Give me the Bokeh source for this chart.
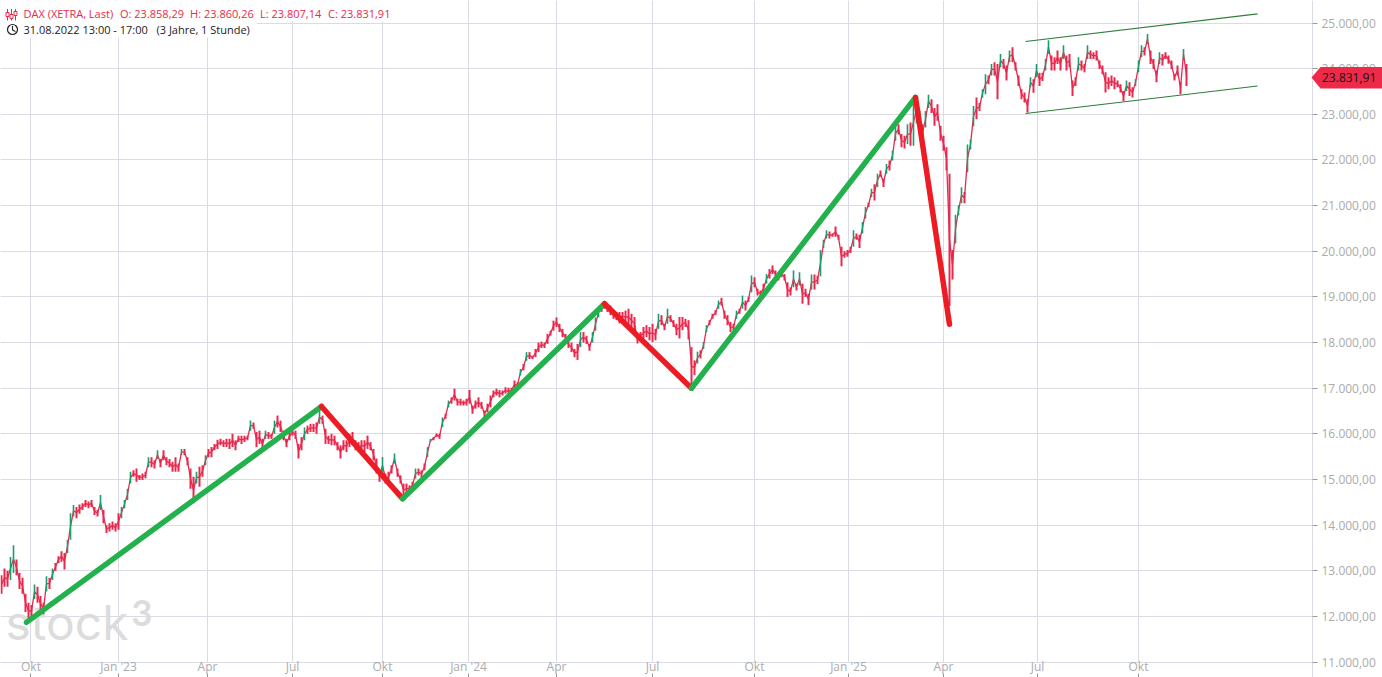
from bokeh.plotting import figure
from bokeh.embed import file_html
from bokeh.resources import INLINE
from bokeh.models import Range1d, FixedTicker
from bokeh.core.properties import value

# ---------- data: candle ranges per session slot (one slot = 3 px of the trading axis) ----------
range_2022_23 = [
 (12500,12900),(12650,13050),(12650,13000),(12800,13300),(12950,13560),(12900,13250),(12600,12950),(12500,12850),
 (12100,12500),(11950,12300),(12000,12250),(12380,12700),(12300,12650),(12100,12450),(12050,12300),(12550,12880),
 (12600,12850),(12800,13050),(13000,13170),(13170,13320),(13200,13430),(13030,13390),(13390,13680),(13680,14260),
 (14190,14440),(14150,14400),(14250,14450),(14330,14480),(14400,14550),(14370,14520),(14400,14550),(14220,14400),
 (14190,14330),(14330,14660),(14040,14330),(13830,14000),(13860,14040),(13900,14080),(13860,14040),(13900,14260),
 (14150,14400),(14370,14550),(14550,14800),(14910,15170),(15060,15200),(14950,15240),(14990,15100),(14990,15130),
 (15030,15170),(15270,15490),(15270,15490),(15240,15420),(15450,15640),(15270,15450),(15420,15640),(15310,15490),
 (15270,15450),(15170,15390),(15170,15490),(15170,15350),(15530,15670),(15530,15670),(15310,15490),(14800,15240),
 (14480,15060),(14910,15170),(14840,15280),(15060,15310),(15310,15530),(15490,15670),(15490,15710),(15640,15780),
 (15670,15870)]
range_2023 = [
 (15750,15890),(15710,15860),(15710,15890),(15670,15890),(15710,16000),(15640,15860),(15820,15960),(15780,15960),
 (15820,15960),(15860,15960),(16070,16290),(16110,16250),(15710,16040),(15780,16070),(15670,15890),(15890,16070),
 (15890,16040),(15890,16000),(16000,16290),(16140,16400),(16040,16290),(15860,16070),(15710,15890),(15860,16040),
 (15960,16110),(15890,16070),(15460,15780),(15640,15930),(15860,16140),(16000,16180),(16040,16220),(16040,16220),
 (16000,16250),(16220,16510),(16220,16400),(15780,16110),(15780,15960),(15750,16000),(15750,15960),(15640,15820),
 (15460,15750),(15640,15860),(15600,15860),(15710,16000),(15750,16040),(15640,15860),(15600,15820),(15640,15860),
 (15600,15860),(15670,15960),(15640,15820),(15420,15670),(15130,15460),(14950,15200),(15130,15490),(14910,15130),
 (14950,15170),(15130,15310),(15350,15570),(15060,15240),(14910,15090),(14620,14910),(14690,14910),(14730,14870),
 (14800,14950),(15020,15240),(15090,15240),(15050,15200),(15200,15350),(15490,15710),(15820,15890),(15860,15930),
 (15930,16010),(15890,16000)]
range_2024a = [
 (16150,16360),(16330,16440),(16580,16730),(16660,16800),(16730,16990),(16620,16770),(16620,16770),(16620,16730),
 (16620,16770),(16660,16960),(16440,16620),(16550,16730),(16580,16800),(16550,16700),(16370,16510),(16470,16660),
 (16580,16840),(16800,16950),(16840,16990),(16800,16960),(16840,16950),(16880,17020),(16840,17010),(16910,17010),
 (16990,17170),(17020,17130),(17280,17420),(17390,17530),(17600,17790),(17640,17790),(17640,17710),(17680,17860),
 (17790,18000),(17880,18020),(17880,18000),(17970,18190),(18150,18260),(18260,18480),(18340,18550),(18230,18410),
 (18120,18300),(18040,18190),(17880,18040),(17790,18000),(17680,17860),(17620,17970),(17900,18230),(18000,18230),
 (17970,18150),(17820,17970),(18000,18230),(18260,18550),(18550,18770)]
range_2024b = [
 (18670,18850),(18740,18880),(18670,18850),(18600,18810),(18520,18700),(18490,18670),(18420,18670),(18490,18670),
 (18420,18700),(18380,18740),(18340,18630),(18270,18560),(17980,18160),(18050,18230),(18090,18340),(18120,18380),
 (18050,18340),(18010,18410),(18050,18300),(18300,18630),(18380,18600),(18270,18410),(18410,18740),(18450,18600),
 (18340,18490),(18160,18410),(18090,18560),(18270,18560),(18340,18520),(18070,18490),(17070,17900),(17290,17610),
 (17540,17800),(17650,17830),(17860,18010),(18230,18380),(18380,18490),(18520,18630),(18600,18710),(18740,18920),
 (18810,18980),(18520,18700),(18380,18600),(18230,18450),(18270,18410),(18520,18700),(18630,18740),(18740,19030),
 (18700,18920),(18890,19000),(19100,19470),(19210,19430),(19030,19180),(19000,19140),(19070,19290),(19290,19500),
 (19400,19610),(19500,19690),(19430,19580),(19360,19500),(19430,19580),(19360,19500),(19000,19320),(19030,19210),
 (19210,19580),(19140,19290),(19250,19540),(18850,19290),(19000,19180),(18820,19070)]
range_2025a = [
 (19160,19490),(19160,19490),(19280,19460),(19450,20030),(20070,20250),(20280,20460),(20280,20430),(20320,20390),
 (20320,20540),(20250,20360),(19670,20100),(19860,20000),(19880,20030),(19960,20100),(20100,20460),(20250,20390),
 (20070,20360),(20390,20640),(20720,20970),(20970,21060),(21190,21370),(21110,21470),(21410,21700),(21630,21770),
 (21410,21590),(21700,21910),(21770,21990),(21990,22200),(22420,22750),(22560,22780),(22280,22570),(22250,22530),
 (22350,22780),(22310,22820),(22310,23360),(22800,23360),(22720,23080),(22420,22780),(22710,23070),(23140,23430),
 (23030,23330),(22750,23140),(22860,23220),(22420,22750),(22200,22530),(21770,22280),(18800,21700),(19380,20030),
 (20170,20800),(20790,21000),(21050,21400),(21050,21300)]
range_2025b = [
 (21730,22340),(22230,22450),(22740,23180),(22890,23370),(23070,23250),(23370,23550),(23440,23880),(23660,23850),
 (23850,24100),(23850,24140),(23330,24100),(24030,24320),(24000,24210),(23740,24070),(24140,24400),(24140,24470),
 (23960,24140),(23620,23850),(23330,23550),(23260,23480),(23040,23330),(23590,23810),(23470,23770),(23810,24100),
 (23620,23910),(23730,23910),(23960,24210),(24320,24620),(23960,24290),(23960,24250),(24100,24400),(23960,24250),
 (24210,24510),(23960,24290),(24030,24320),(23400,23740),(23620,23810),(23960,24250),(23960,24180),(23920,24100),
 (24210,24510),(24210,24400),(24210,24360),(24180,24400),(23990,24180),(23880,24070),(23480,23920),(23550,23810),
 (23620,23850),(23550,23810),(23590,23740),(23480,23660),(23290,23510),(23510,23740),(23400,23700),(23370,23590),
 (23620,23770),(23920,24180),(24250,24510),(24290,24470),(24540,24760),(24100,24400),(23990,24210),(23700,23960),
 (24100,24360),(24070,24320),(24210,24360),(24110,24290),(23990,24180),(23740,23880),(23850,24070),(23440,23710),
 (24210,24430),(23620,24100)]

# zigzag trend: session slot and price of each pivot
pivot_slot = [8.33, 106.67, 133.67, 201.0, 230.0, 304.67, 316.0]
pivot_price = [11870, 16600, 14580, 18850, 17000, 23370, 18400]
# channel (session slot, price)
channel_slot = [341.33, 418.67]
channel_top = [24595, 25200]
channel_bottom = [23017, 23620]

month_slots = [9.83, 39.0, 68.67, 97.0, 127.0, 155.67, 185.0, 217.0, 251.0, 282.33, 314.0, 345.33, 379.0]
month_labels = ["Okt", "Jan '23", "Apr", "Jul", "Okt", "Jan '24", "Apr", "Jul", "Okt", "Jan '25", "Apr", "Jul", "Okt"]
price_ticks = list(range(11000, 26000, 1000))
last_close = 23831.91
header_ohlc = ["DAX (XETRA, Last)", "O: 23.858,29", "H: 23.860,26", "L: 23.807,14", "C: 23.831,91"]
header_time = ["31.08.2022 13:00 - 17:00", "(3 Jahre, 1 Stunde)"]

# ---------- page-pixel helpers for decorations only ----------
Y25 = 22.5
PX_PER_K = 45.65
def sx(px): return (px - 1) / 3
def py(y): return 25000 - (y - Y25) / PX_PER_K * 1000
def de(v):
    return f"{v:,.2f}".replace(",", "#").replace(".", ",").replace("#", ".")

RED = "#e8294d"
TEAL = "#1f9a6b"
GRID = "#dbdbe5"
AXTXT = "#ababab"
AXIS_X = sx(1312)
AXIS_Y = py(661.6)

p = figure(width=1382, height=677, output_backend="svg", toolbar_location=None,
           x_range=Range1d(sx(0), sx(1382)), y_range=Range1d(py(677), py(0)),
           y_axis_location="right", min_border_left=0, min_border_top=0,
           min_border_right=0, min_border_bottom=0, outline_line_color=None,
           background_fill_color="white", border_fill_color="white")

# axes
xa = p.xaxis[0]
xa.fixed_location = AXIS_Y
xa.ticker = FixedTicker(ticks=month_slots)
xa.major_label_overrides = dict(zip(month_slots, month_labels))
xa.axis_line_color = GRID
xa.bounds = (sx(0), AXIS_X)
xa.major_tick_line_color = "#999999"
xa.major_tick_in = -11
xa.major_tick_out = 15
xa.minor_tick_line_color = None
xa.major_label_standoff = -19
xa.major_label_text_color = AXTXT
xa.major_label_text_font = "Open Sans"
xa.major_label_text_font_size = "12px"

ya = p.yaxis[0]
ya.fixed_location = AXIS_X
ya.ticker = FixedTicker(ticks=price_ticks)
ya.major_label_overrides = {t: de(t) for t in price_ticks}
ya.axis_line_color = GRID
ya.major_tick_line_color = "#999999"
ya.major_tick_in = 0
ya.major_tick_out = 5
ya.minor_tick_line_color = None
ya.major_label_standoff = 4
ya.major_label_text_color = AXTXT
ya.major_label_text_font = "Open Sans"
ya.major_label_text_font_size = "12px"

p.xgrid.ticker = FixedTicker(ticks=month_slots)
p.ygrid.ticker = FixedTicker(ticks=price_ticks)
p.grid.grid_line_color = GRID
p.grid.grid_line_width = 1

# white strips: the grid stops at the two axes
p.quad(left=[AXIS_X, sx(0)], right=[sx(1382), sx(1382)], top=[py(0), AXIS_Y], bottom=[py(677), py(677)],
       fill_color="white", line_color=None)

# watermark
p.text([sx(5)], [py(622)], text=["stock"], text_font=value("Inter"), text_font_size="48px",
       text_color="#dcdcdc", text_baseline="alphabetic", text_align="left")
p.text([sx(131)], [py(612)], text=["3"], text_font=value("Lato"), text_font_size="36px",
       text_font_style="bold", text_color="#dcdcdc", text_baseline="alphabetic", text_align="left")

# candles
ranges = range_2022_23 + range_2023 + range_2024a + range_2024b + range_2025a + range_2025b
slots = list(range(len(ranges)))
lows = [r[0] for r in ranges]
highs = [r[1] for r in ranges]
mids = [(a + b) / 2 for a, b in ranges]
up = [i > 0 and mids[i] - mids[i - 1] > 170 for i in slots]
up_i = [i for i in slots if up[i]]
dn_i = [i for i in slots if not up[i]]
# thin path joining the candles, broken across the visible session gaps
path_y = []
path_x = []
for i in slots:
    if i > 0 and (lows[i] > highs[i - 1] + 500 or highs[i] < lows[i - 1] - 500):
        path_x.append(float("nan"))
        path_y.append(float("nan"))
    path_x.append(i)
    path_y.append(mids[i])
p.line(path_x, path_y, line_color=RED, line_width=1.3)
p.segment(dn_i, [lows[i] for i in dn_i], dn_i, [highs[i] for i in dn_i], line_color=RED, line_width=2.0)
p.segment(up_i, [lows[i] for i in up_i], up_i, [highs[i] for i in up_i], line_color=TEAL, line_width=1.6)

# channel
p.line(channel_slot, channel_top, line_color="#2e7d3a", line_width=1.2)
p.line(channel_slot, channel_bottom, line_color="#2e7d3a", line_width=1.2)

# zigzag
for i in range(len(pivot_slot) - 1):
    rising = pivot_price[i + 1] > pivot_price[i]
    p.line(pivot_slot[i:i + 2], pivot_price[i:i + 2], line_color="#22b14c" if rising else "#ed1c24",
           line_width=5.5, line_cap="round")

# header (white boxes hide the grid behind it)
p.quad(left=[sx(0), sx(0)], right=[sx(392), sx(256)], top=[py(0), py(21)], bottom=[py(21), py(37)],
       fill_color="white", line_color=None)
hx = [23, 119.5, 189.6, 259.5, 327.5]
p.text([sx(v) for v in hx], [py(13)] * 5, text=header_ohlc, text_font=value("Open Sans"), text_font_size="11px",
       text_color=RED, text_baseline="middle", text_align="left")
p.text([sx(23), sx(156)], [py(29)] * 2, text=header_time, text_font=value("Open Sans"), text_font_size="11px",
       text_color="#222222", text_baseline="middle", text_align="left")
# candle icon
ix = [sx(7), sx(11), sx(15)]
p.segment(ix, [py(20), py(20), py(20)], ix, [py(8.5), py(8.5), py(8.5)], line_color=RED, line_width=1)
p.quad(left=[v - 0.5 for v in ix], right=[v + 0.5 for v in ix],
       top=[py(12), py(14), py(11)], bottom=[py(16), py(18), py(15)],
       fill_color="white", line_color=RED, line_width=1)
# clock icon
p.scatter([sx(12)], [py(29)], size=10, marker="circle", fill_color="white", line_color="#222222", line_width=1.2)
p.line([sx(12), sx(12), sx(15)], [py(25.5), py(29.5), py(31)], line_color="#222222", line_width=1.1)

# last price tag, above the axis labels
p.patch([sx(1311), sx(1320), sx(1382), sx(1382), sx(1320)],
        [py(77), py(66.5), py(66.5), py(88), py(88)],
        fill_color="#ee2a4a", line_color=None, level="annotation")
p.text([sx(1321.5)], [py(77)], text=[de(last_close)], text_font=value("Open Sans"), text_font_size="12px",
       text_color="#111111", text_baseline="middle", text_align="left", level="annotation")

open("out.html", "w").write(file_html(p, INLINE))
